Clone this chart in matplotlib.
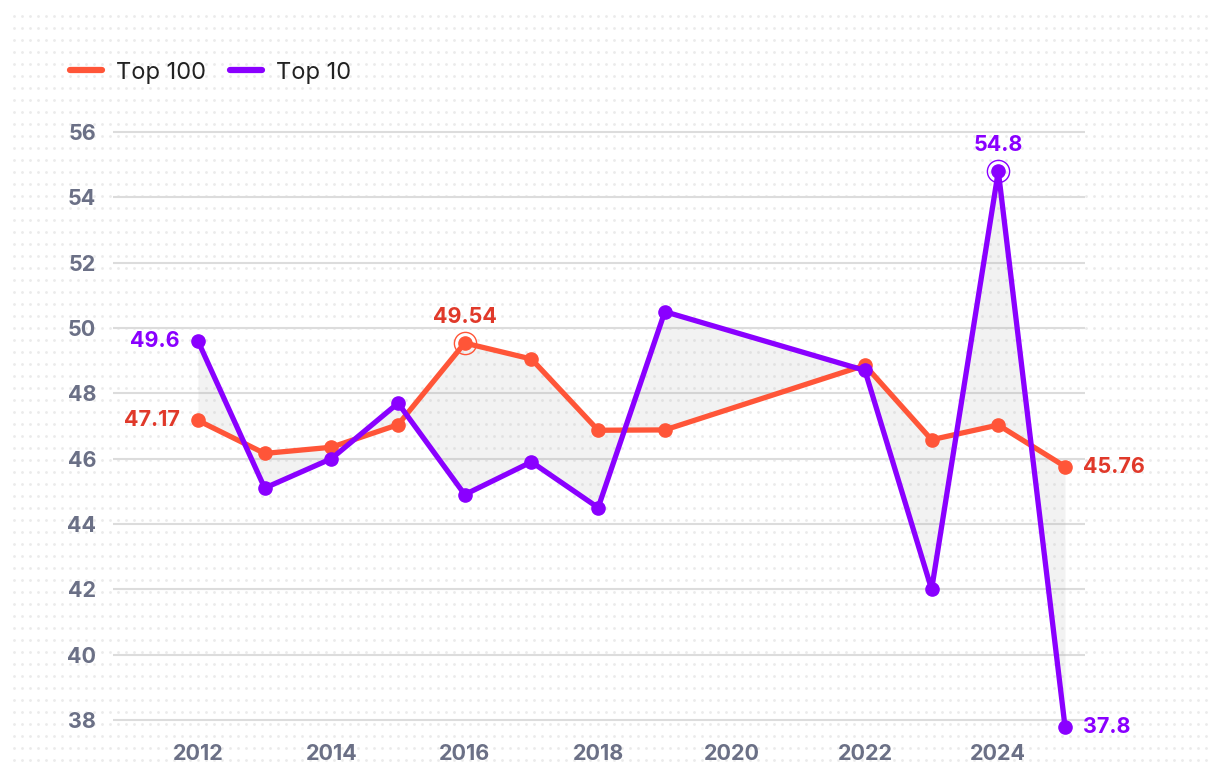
import numpy as np
import matplotlib
matplotlib.use('Agg')
import matplotlib.pyplot as plt

plt.rcParams['font.family'] = ['Inter', 'DejaVu Sans']

# dados
anos = [2012, 2013, 2014, 2015, 2016, 2017, 2018, 2019, 2022, 2023, 2024, 2025]
top100 = [47.17, 46.16, 46.35, 47.04, 49.54, 49.05, 46.87, 46.88, 48.86, 46.58, 47.03, 45.76]
top10 = [49.6, 45.1, 46.0, 47.7, 44.9, 45.9, 44.5, 50.5, 48.7, 42.0, 54.8, 37.8]
yticks = [38, 40, 42, 44, 46, 48, 50, 52, 54, 56]
xticks = [2012, 2014, 2016, 2018, 2020, 2022, 2024]

cor100 = '#ff5538'
cor100_txt = '#e0392a'
cor10 = '#8a00ff'

W, H = 1220, 778
fig = plt.figure(figsize=(W / 100, H / 100), dpi=100)

# fundo pontilhado
bg = fig.add_axes([0, 0, 1, 1], zorder=-1)
bg.set_xlim(0, W)
bg.set_ylim(H, 0)
bg.axis('off')
gx, gy = np.meshgrid(np.arange(13.7, 1210, 8), np.arange(15.7, 765, 12))
bg.scatter(gx.ravel(), gy.ravel(), s=4, color='#ebebeb', linewidths=0)

ax = fig.add_axes([113 / W, (H - 740) / H, (1085 - 113) / W, 620 / H])
ax.patch.set_alpha(0)
ax.set_xlim(2012 - 85 / 66.7, 2025 + 20 / 66.7)
ax.set_ylim(38 - 20 / 32.67, 56 + 12 / 32.67)

for s in ax.spines.values():
    s.set_visible(False)
ax.set_yticks(yticks)
ax.set_xticks(xticks)
ax.tick_params(length=0, labelsize=15.5, labelcolor='#6b7086', pad=12)
ax.tick_params(axis='x', pad=3)
for lab in ax.get_xticklabels() + ax.get_yticklabels():
    lab.set_fontweight('bold')
ax.yaxis.grid(True, color='#dcdcdc', lw=1.5)
ax.set_axisbelow(True)

ax.fill_between(anos, top100, top10, color='#b0b0b0', alpha=0.16, lw=0, zorder=1)
ax.plot(anos, top100, color=cor100, lw=3.8, marker='o', ms=9.5, label='Top 100',
        solid_capstyle='round', zorder=3)
ax.plot(anos, top10, color=cor10, lw=3.8, marker='o', ms=9.5, label='Top 10',
        solid_capstyle='round', zorder=4)

# anel nos maximos
i100 = int(np.argmax(top100))
i10 = int(np.argmax(top10))
ax.plot(anos[i100], top100[i100], 'o', ms=16, mfc='none', mec=cor100, mew=1, zorder=5)
ax.plot(anos[i10], top10[i10], 'o', ms=16, mfc='none', mec=cor10, mew=1, zorder=5)

kw = dict(textcoords='offset points', fontsize=15.5, fontweight='bold', va='center')
ax.annotate(f'{top10[0]}', (anos[0], top10[0]), xytext=(-13, 0), ha='right', color=cor10, **kw)
ax.annotate(f'{top100[0]}', (anos[0], top100[0]), xytext=(-13, 0), ha='right', color=cor100_txt, **kw)
ax.annotate(f'{top100[-1]}', (anos[-1], top100[-1]), xytext=(13, 0), ha='left', color=cor100_txt, **kw)
ax.annotate(f'{top10[-1]}', (anos[-1], top10[-1]), xytext=(13, 0), ha='left', color=cor10, **kw)
ax.annotate(f'{top100[i100]}', (anos[i100], top100[i100]), xytext=(0, 19), ha='center', color=cor100_txt, **kw)
ax.annotate(f'{top10[i10]}', (anos[i10], top10[i10]), xytext=(0, 19), ha='center', color=cor10, **kw)

leg = fig.legend(loc='upper left', bbox_to_anchor=(0.040, 0.948), ncol=2, frameon=False,
                 fontsize=17, handlelength=1.35, handletextpad=0.6, columnspacing=1.0)
for h in leg.get_lines():
    h.set_marker('')
    h.set_linewidth(4.5)
for t in leg.get_texts():
    t.set_color('#222222')

fig.savefig('out.png', dpi=100)
